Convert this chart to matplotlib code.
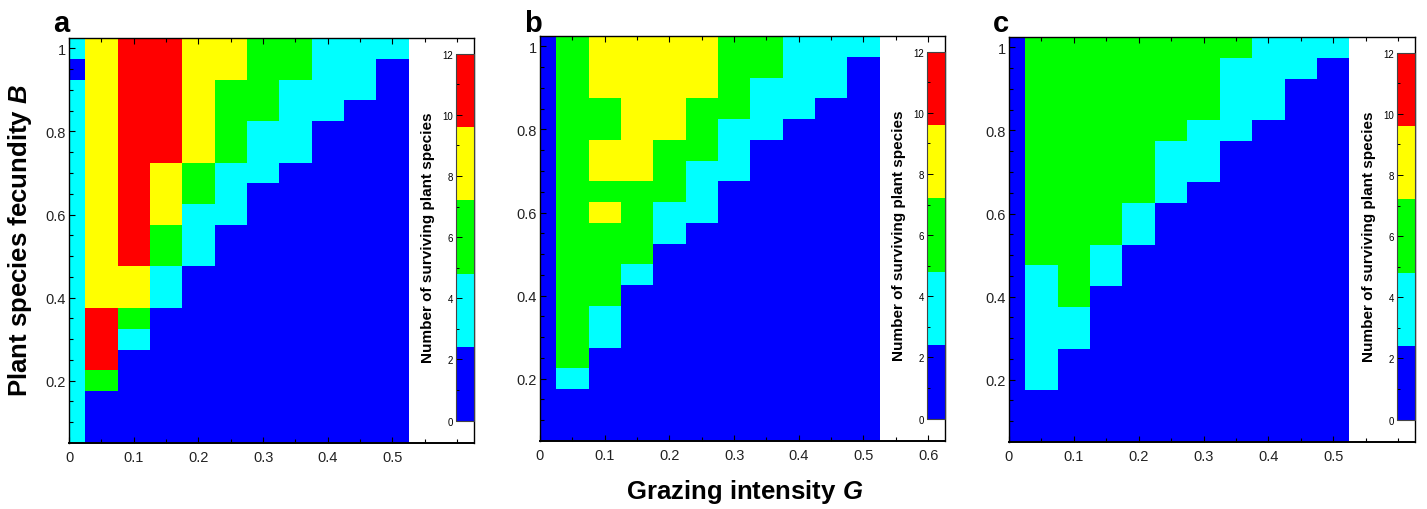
import numpy as np
import matplotlib
matplotlib.use("Agg")
import matplotlib.pyplot as plt
from matplotlib.colors import ListedColormap, BoundaryNorm
from matplotlib.ticker import MultipleLocator, FixedLocator, FixedFormatter

plt.rcParams["font.family"] = ["Liberation Sans", "DejaVu Sans"]
plt.rcParams["mathtext.fontset"] = "custom"
plt.rcParams["mathtext.rm"] = "Liberation Sans"
plt.rcParams["mathtext.bf"] = "Liberation Sans:bold"
plt.rcParams["mathtext.bfit"] = "Liberation Sans:italic:bold"

# Grazing intensity G (columns) and plant fecundity B (rows, top to bottom)
grazing = [0.00, 0.05, 0.10, 0.15, 0.20, 0.25, 0.30, 0.35, 0.40, 0.45, 0.50]
fecundity = [1.00, 0.95, 0.90, 0.85, 0.80, 0.75, 0.70, 0.65, 0.60, 0.55,
             0.50, 0.45, 0.40, 0.35, 0.30, 0.25, 0.20, 0.15, 0.10, 0.05]

# Number of surviving plant species on each (G, B) grid point
survivors_a = [
    [4, 8, 11, 11, 8, 8, 6, 6, 4, 4, 4],
    [1, 8, 11, 11, 8, 8, 6, 6, 4, 4, 1],
    [4, 8, 11, 11, 8, 6, 6, 4, 4, 4, 1],
    [4, 8, 11, 11, 8, 6, 6, 4, 4, 1, 1],
    [4, 8, 11, 11, 8, 6, 4, 4, 1, 1, 1],
    [4, 8, 11, 11, 8, 6, 4, 4, 1, 1, 1],
    [4, 8, 11, 8, 6, 4, 4, 1, 1, 1, 1],
    [4, 8, 11, 8, 6, 4, 1, 1, 1, 1, 1],
    [4, 8, 11, 8, 4, 4, 1, 1, 1, 1, 1],
    [4, 8, 11, 6, 4, 1, 1, 1, 1, 1, 1],
    [4, 8, 11, 6, 4, 1, 1, 1, 1, 1, 1],
    [4, 8, 8, 4, 1, 1, 1, 1, 1, 1, 1],
    [4, 8, 8, 4, 1, 1, 1, 1, 1, 1, 1],
    [4, 11, 6, 1, 1, 1, 1, 1, 1, 1, 1],
    [4, 11, 4, 1, 1, 1, 1, 1, 1, 1, 1],
    [4, 11, 1, 1, 1, 1, 1, 1, 1, 1, 1],
    [4, 6, 1, 1, 1, 1, 1, 1, 1, 1, 1],
    [4, 1, 1, 1, 1, 1, 1, 1, 1, 1, 1],
    [4, 1, 1, 1, 1, 1, 1, 1, 1, 1, 1],
    [4, 1, 1, 1, 1, 1, 1, 1, 1, 1, 1],
]

survivors_b = [
    [1, 6, 8, 8, 8, 8, 6, 6, 4, 4, 4],
    [1, 6, 8, 8, 8, 8, 6, 6, 4, 4, 1],
    [1, 6, 8, 8, 8, 8, 6, 4, 4, 4, 1],
    [1, 6, 6, 8, 8, 6, 6, 4, 4, 1, 1],
    [1, 6, 6, 8, 8, 6, 4, 4, 1, 1, 1],
    [1, 6, 8, 8, 6, 6, 4, 1, 1, 1, 1],
    [1, 6, 8, 8, 6, 4, 4, 1, 1, 1, 1],
    [1, 6, 6, 6, 6, 4, 1, 1, 1, 1, 1],
    [1, 6, 8, 6, 4, 4, 1, 1, 1, 1, 1],
    [1, 6, 6, 6, 4, 1, 1, 1, 1, 1, 1],
    [1, 6, 6, 6, 1, 1, 1, 1, 1, 1, 1],
    [1, 6, 6, 4, 1, 1, 1, 1, 1, 1, 1],
    [1, 6, 6, 1, 1, 1, 1, 1, 1, 1, 1],
    [1, 6, 4, 1, 1, 1, 1, 1, 1, 1, 1],
    [1, 6, 4, 1, 1, 1, 1, 1, 1, 1, 1],
    [1, 6, 1, 1, 1, 1, 1, 1, 1, 1, 1],
    [1, 4, 1, 1, 1, 1, 1, 1, 1, 1, 1],
    [1, 1, 1, 1, 1, 1, 1, 1, 1, 1, 1],
    [1, 1, 1, 1, 1, 1, 1, 1, 1, 1, 1],
    [1, 1, 1, 1, 1, 1, 1, 1, 1, 1, 1],
]

survivors_c = [
    [1, 6, 6, 6, 6, 6, 6, 6, 4, 4, 4],
    [1, 6, 6, 6, 6, 6, 6, 4, 4, 4, 1],
    [1, 6, 6, 6, 6, 6, 6, 4, 4, 1, 1],
    [1, 6, 6, 6, 6, 6, 6, 4, 4, 1, 1],
    [1, 6, 6, 6, 6, 6, 4, 4, 1, 1, 1],
    [1, 6, 6, 6, 6, 4, 4, 1, 1, 1, 1],
    [1, 6, 6, 6, 6, 4, 4, 1, 1, 1, 1],
    [1, 6, 6, 6, 6, 4, 1, 1, 1, 1, 1],
    [1, 6, 6, 6, 4, 1, 1, 1, 1, 1, 1],
    [1, 6, 6, 6, 4, 1, 1, 1, 1, 1, 1],
    [1, 6, 6, 4, 1, 1, 1, 1, 1, 1, 1],
    [1, 4, 6, 4, 1, 1, 1, 1, 1, 1, 1],
    [1, 4, 6, 1, 1, 1, 1, 1, 1, 1, 1],
    [1, 4, 4, 1, 1, 1, 1, 1, 1, 1, 1],
    [1, 4, 4, 1, 1, 1, 1, 1, 1, 1, 1],
    [1, 4, 1, 1, 1, 1, 1, 1, 1, 1, 1],
    [1, 4, 1, 1, 1, 1, 1, 1, 1, 1, 1],
    [1, 1, 1, 1, 1, 1, 1, 1, 1, 1, 1],
    [1, 1, 1, 1, 1, 1, 1, 1, 1, 1, 1],
    [1, 1, 1, 1, 1, 1, 1, 1, 1, 1, 1],
]

panel_letters = ["a", "b", "c"]
colour_levels = [0, 2.4, 4.8, 7.2, 9.6, 12]
colour_list = ["#0000FF", "#00FFFF", "#00FF00", "#FFFF00", "#FF0000"]

cmap = ListedColormap(colour_list)
norm = BoundaryNorm(colour_levels, cmap.N)

W, H = 1427, 510
fig = plt.figure(figsize=(W / 100, H / 100), dpi=100)

# axes boxes in pixels: left, top, right, bottom
boxes = [(69, 39, 474, 444), (540, 37, 945, 442), (1009, 38, 1415, 443)]
xmax = 0.626
ymin, ymax = 0.05, 1.025

G = np.array(grazing)
Bv = np.array(fecundity)[::-1]

for k, (data, letter, (l, t, r, b)) in enumerate(
        zip([survivors_a, survivors_b, survivors_c], panel_letters, boxes)):
    ax = fig.add_axes([l / W, 1 - b / H, (r - l) / W, (b - t) / H])
    Z = np.array(data, dtype=float)[::-1]
    mesh = ax.pcolormesh(G, Bv, Z, cmap=cmap, norm=norm, shading="nearest",
                         antialiased=False, linewidth=0)
    ax.set_xlim(0, xmax)
    ax.set_ylim(ymin, ymax)

    xt = [0, 0.1, 0.2, 0.3, 0.4, 0.5] + ([0.6] if k == 1 else [])
    ax.xaxis.set_major_locator(FixedLocator(xt))
    ax.xaxis.set_major_formatter(FixedFormatter(["0", "0.1", "0.2", "0.3", "0.4", "0.5", "0.6"][:len(xt)]))
    ax.xaxis.set_minor_locator(FixedLocator([0.05, 0.15, 0.25, 0.35, 0.45, 0.55] + ([] if k == 1 else [0.6])))
    ax.yaxis.set_major_locator(FixedLocator([0.2, 0.4, 0.6, 0.8, 1.0]))
    ax.yaxis.set_major_formatter(FixedFormatter(["0.2", "0.4", "0.6", "0.8", "1"]))
    ax.yaxis.set_minor_locator(FixedLocator([0.1, 0.15, 0.25, 0.3, 0.35, 0.45, 0.5, 0.55,
                                             0.65, 0.7, 0.75, 0.85, 0.9, 0.95]))
    ax.tick_params(which="both", direction="in", top=True, right=False,
                   labelsize=10.5, width=0.8, color="black", labelcolor="#222222")
    ax.tick_params(axis="x", which="both", pad=5)
    ax.tick_params(axis="y", which="both", pad=2.5)
    ax.tick_params(which="major", length=4)
    ax.tick_params(which="minor", length=3)
    for s in ax.spines.values():
        s.set_linewidth(1.0)
    ax.spines["bottom"].set_linewidth(1.4)

    # colour scale drawn inside the frame on the right
    cax = ax.inset_axes([0.598, 0.104, xmax - 0.598, 0.987 - 0.104],
                        transform=ax.transData)
    cb = fig.colorbar(mesh, cax=cax, ticks=[0, 2, 4, 6, 8, 10, 12])
    cb.outline.set_linewidth(0.8)
    cb.outline.set_edgecolor("#444444")
    cax.yaxis.set_ticks_position("left")
    cax.yaxis.set_label_position("left")
    cax.yaxis.set_minor_locator(MultipleLocator(1))
    cax.tick_params(which="both", direction="in", labelsize=7, pad=2, width=0.7)
    cax.tick_params(which="major", length=4)
    cax.tick_params(which="minor", length=2.5)
    ax.text(0.555, (0.104 + 0.987) / 2, "Number of surviving plant species",
            rotation=90, ha="center", va="center", fontsize=11, fontweight="bold")

    fig.text((l - 16) / W, 1 - 32 / H, letter, fontsize=21, fontweight="bold",
             ha="left", va="baseline")

fig.text(20 / W, 1 - 241 / H, "Plant species fecundity $\\mathbfit{B}$",
         rotation=90, ha="center", va="center", fontsize=18.5, fontweight="bold")
fig.text(745 / W, 1 - 492 / H, "Grazing intensity $\\mathbfit{G}$",
         ha="center", va="center", fontsize=18.5, fontweight="bold")

fig.savefig("out.png", dpi=100)
